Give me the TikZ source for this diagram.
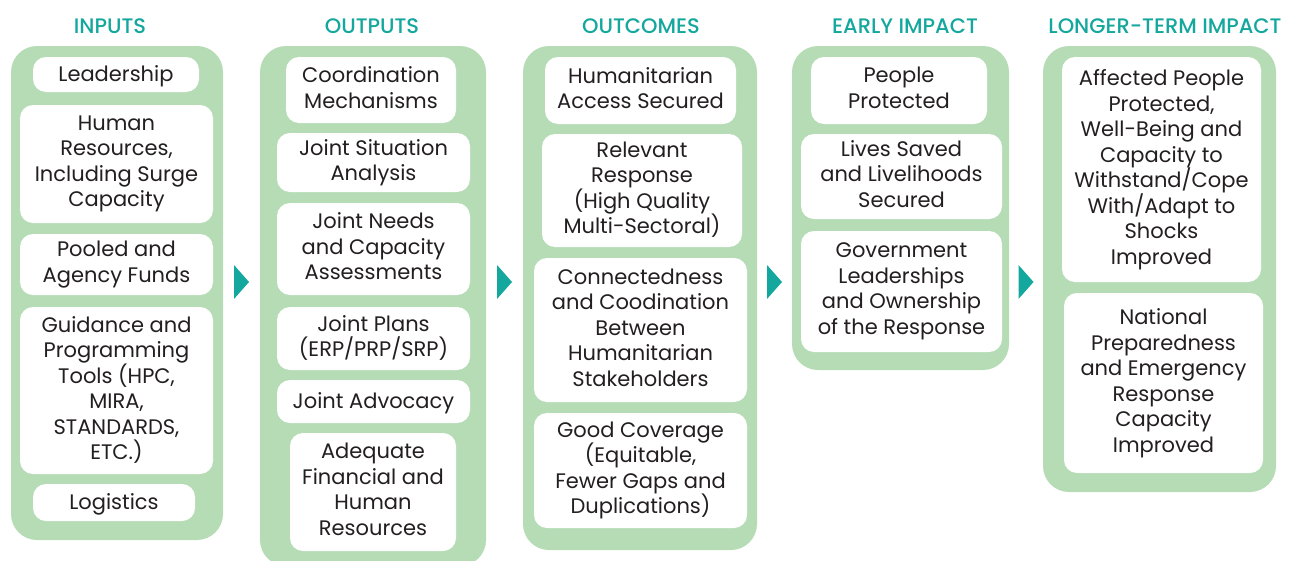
\documentclass[tikz,border=0pt]{standalone}
\usepackage{fontspec}
\setmainfont{Poppins}[BoldFont={Poppins Medium}]
\usetikzlibrary{calc}
\definecolor{gbg}{HTML}{B6DCB6}
\definecolor{tealc}{HTML}{14A79D}
\definecolor{txt}{HTML}{231F20}
\newcommand\mystrut{\rule[-5.25pt]{0pt}{25.5pt}}
\newcommand\wbx[6]{\node[wbox, minimum width={#4-#2}, minimum height={#5-#3}] (#1) at ({(#2+#4)/2},{(#3+#5)/2}) {#6};}
\newcommand\colbx[5]{\node[colb, minimum width={#4-#2}, minimum height={#5-#3}] (#1) at ({(#2+#4)/2},{(#3+#5)/2}) {};}
\begin{document}
\begin{tikzpicture}[x=1pt,y=-1pt,
  colb/.style={fill=gbg, rounded corners=26pt, inner sep=0pt, draw=none},
  wbox/.style={fill=white, rounded corners=13pt, inner sep=0pt, align=center, text=txt,
    font=\fontsize{21}{25.5}\selectfont,
    execute at begin node=\mystrut, execute at end node=\mystrut},
  hdr/.style={text=tealc, inner sep=0pt, font=\bfseries\fontsize{21}{25}\selectfont},
  tri/.style={fill=tealc}]
\useasboundingbox (0,0) rectangle (1294,560);
\clip (0,0) rectangle (1294,560);
% headers
\node[hdr] (h1) at (110,26) {INPUTS};
\node[hdr] (h2) at (372,26) {OUTPUTS};
\node[hdr] (h3) at (641,26) {OUTCOMES};
\node[hdr] (h4) at (905,26) {EARLY IMPACT};
\node[hdr] (h5) at (1165,26) {LONGER-TERM IMPACT};
% columns
\colbx{c1}{11}{46}{223}{540}
\colbx{c2}{260}{46}{486}{566}
\colbx{c3}{523}{46}{757}{550}
\colbx{c4}{792}{46}{1009}{370}
\colbx{c5}{1043}{46}{1276}{492}
% inputs
\wbx{i1}{33}{57}{199}{92}{Leadership}
\wbx{i2}{20}{105}{213}{223}{Human\\Resources,\\Including Surge\\Capacity}
\wbx{i3}{20}{234}{213}{295}{Pooled and\\Agency Funds}
\wbx{i4}{20}{307}{213}{474}{Guidance and\\Programming\\Tools (HPC,\\MIRA,\\STANDARDS,\\ETC.)}
\wbx{i5}{33}{484}{195}{521}{Logistics}
% outputs
\wbx{o1}{286}{57}{456}{123}{Coordination\\Mechanisms}
\wbx{o2}{277}{133}{470}{192}{Joint Situation\\Analysis}
\wbx{o3}{277}{203}{470}{295}{Joint Needs\\and Capacity\\Assessments}
\wbx{o4}{277}{307}{470}{370}{Joint Plans\\(ERP/PRP/SRP)}
\wbx{o5}{277}{380}{470}{423}{Joint Advocacy}
\wbx{o6}{290}{433}{456}{551}{Adequate\\Financial and\\Human\\Resources}
% outcomes
\wbx{u1}{545}{57}{736}{124}{Humanitarian\\Access Secured}
\wbx{u2}{542}{134}{742}{247}{Relevant\\Response\\(High Quality\\Multi-Sectoral)}
\wbx{u3}{534}{258}{747}{402}{Connectedness\\and Coodination\\Between\\Humanitarian\\Stakeholders}
\wbx{u4}{534}{413}{747}{528}{Good Coverage\\(Equitable,\\Fewer Gaps and\\Duplications)}
% early impact
\wbx{e1}{811}{57}{987}{124}{People\\Protected}
\wbx{e2}{801}{134}{1002}{219}{Lives Saved\\and Livelihoods\\Secured}
\wbx{e3}{801}{231}{1002}{352}{Government\\Leaderships\\and Ownership\\of the Response}
% longer-term impact
\wbx{l1}{1062}{57}{1261}{282}{Affected People\\Protected,\\Well-Being and\\Capacity to\\Withstand/Cope\\With/Adapt to\\Shocks\\Improved}
\wbx{l2}{1064}{293}{1263}{473}{National\\Preparedness\\and Emergency\\Response\\Capacity\\Improved}
% arrows between columns
\foreach \a/\b [count=\k] in {c1/c2,c2/c3,c3/c4,c4/c5}{
  \coordinate (m\k) at ($(\a.east)!0.5!(\b.west)$);
  \fill[tri] (m\k |- 0,265) ++(-7.5,0) -- ++(15,17) -- ++(-15,17) -- cycle;
}
\end{tikzpicture}
\end{document}
